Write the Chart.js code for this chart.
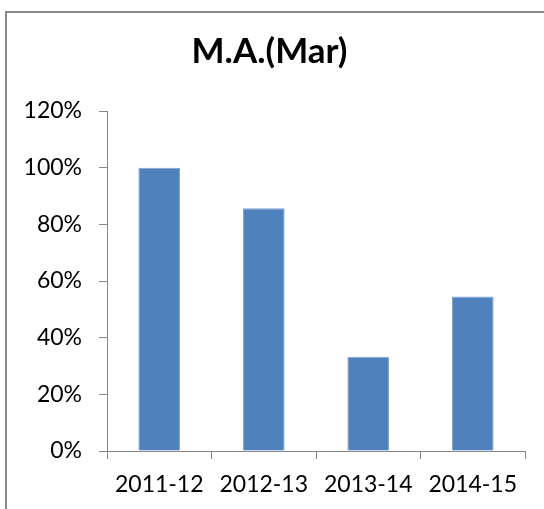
<!DOCTYPE html>
<html>
<head>
<meta charset="utf-8">
<script src="https://cdn.jsdelivr.net/npm/chart.js@4/dist/chart.umd.min.js"></script>
<style>
  html, body { margin: 0; padding: 0; background: #ffffff; overflow: hidden; }
  #frame { position: absolute; left: 5px; top: 11px; width: 600px; height: 600px; border: 2px solid #878787; box-sizing: border-box; }
  #wrap { position: absolute; left: 0; top: 0; width: 544px; height: 509px; }
</style>
</head>
<body>
<div id="frame"></div>
<div id="wrap"><canvas id="c" width="544" height="509"></canvas></div>
<script>
const chartTitle = "M.A.(Mar)";
const categories = ["2011-12", "2012-13", "2013-14", "2014-15"];
const values = [100, 85.7, 33.3, 54.5];
const yTicks = [0, 20, 40, 60, 80, 100, 120];

const axisColor = "#868686";
const fontFamily = "Lato, 'Liberation Sans', sans-serif";

new Chart(document.getElementById("c"), {
  type: "bar",
  data: {
    labels: categories,
    datasets: [{
      data: values,
      backgroundColor: "#4F81BD",
      borderColor: "#7FA3D1",
      borderWidth: 1,
      barPercentage: 0.4,
      categoryPercentage: 1.0
    }]
  },
  options: {
    responsive: false,
    animation: false,
    devicePixelRatio: 1,
    layout: { padding: { left: 14, right: 19, top: 0, bottom: 0 } },
    plugins: {
      legend: { display: false },
      tooltip: { enabled: false },
      title: {
        display: true,
        text: chartTitle,
        color: "#000000",
        font: { family: fontFamily, size: 35, weight: "bold", lineHeight: 1.2 },
        padding: { top: 31, bottom: 38 }
      }
    },
    scales: {
      x: {
        grid: { display: true, drawOnChartArea: false, drawTicks: true, tickLength: 8, color: axisColor, offset: true },
        border: { display: true, color: axisColor, width: 1 },
        ticks: { color: "#000000", font: { family: fontFamily, size: 23 }, padding: 12, maxRotation: 0, autoSkip: false },
        afterFit: s => { s.height = 58; }
      },
      y: {
        min: 0,
        max: 120,
        afterBuildTicks: s => { s.ticks = yTicks.map(v => ({ value: v })); },
        grid: { display: true, drawOnChartArea: false, drawTicks: true, tickLength: 8, color: axisColor },
        border: { display: true, color: axisColor, width: 1 },
        ticks: { color: "#000000", font: { family: fontFamily, size: 23 }, padding: 17, callback: v => v + "%" },
        afterFit: s => { s.width = 93; }
      }
    }
  }
});
</script>
</body>
</html>
